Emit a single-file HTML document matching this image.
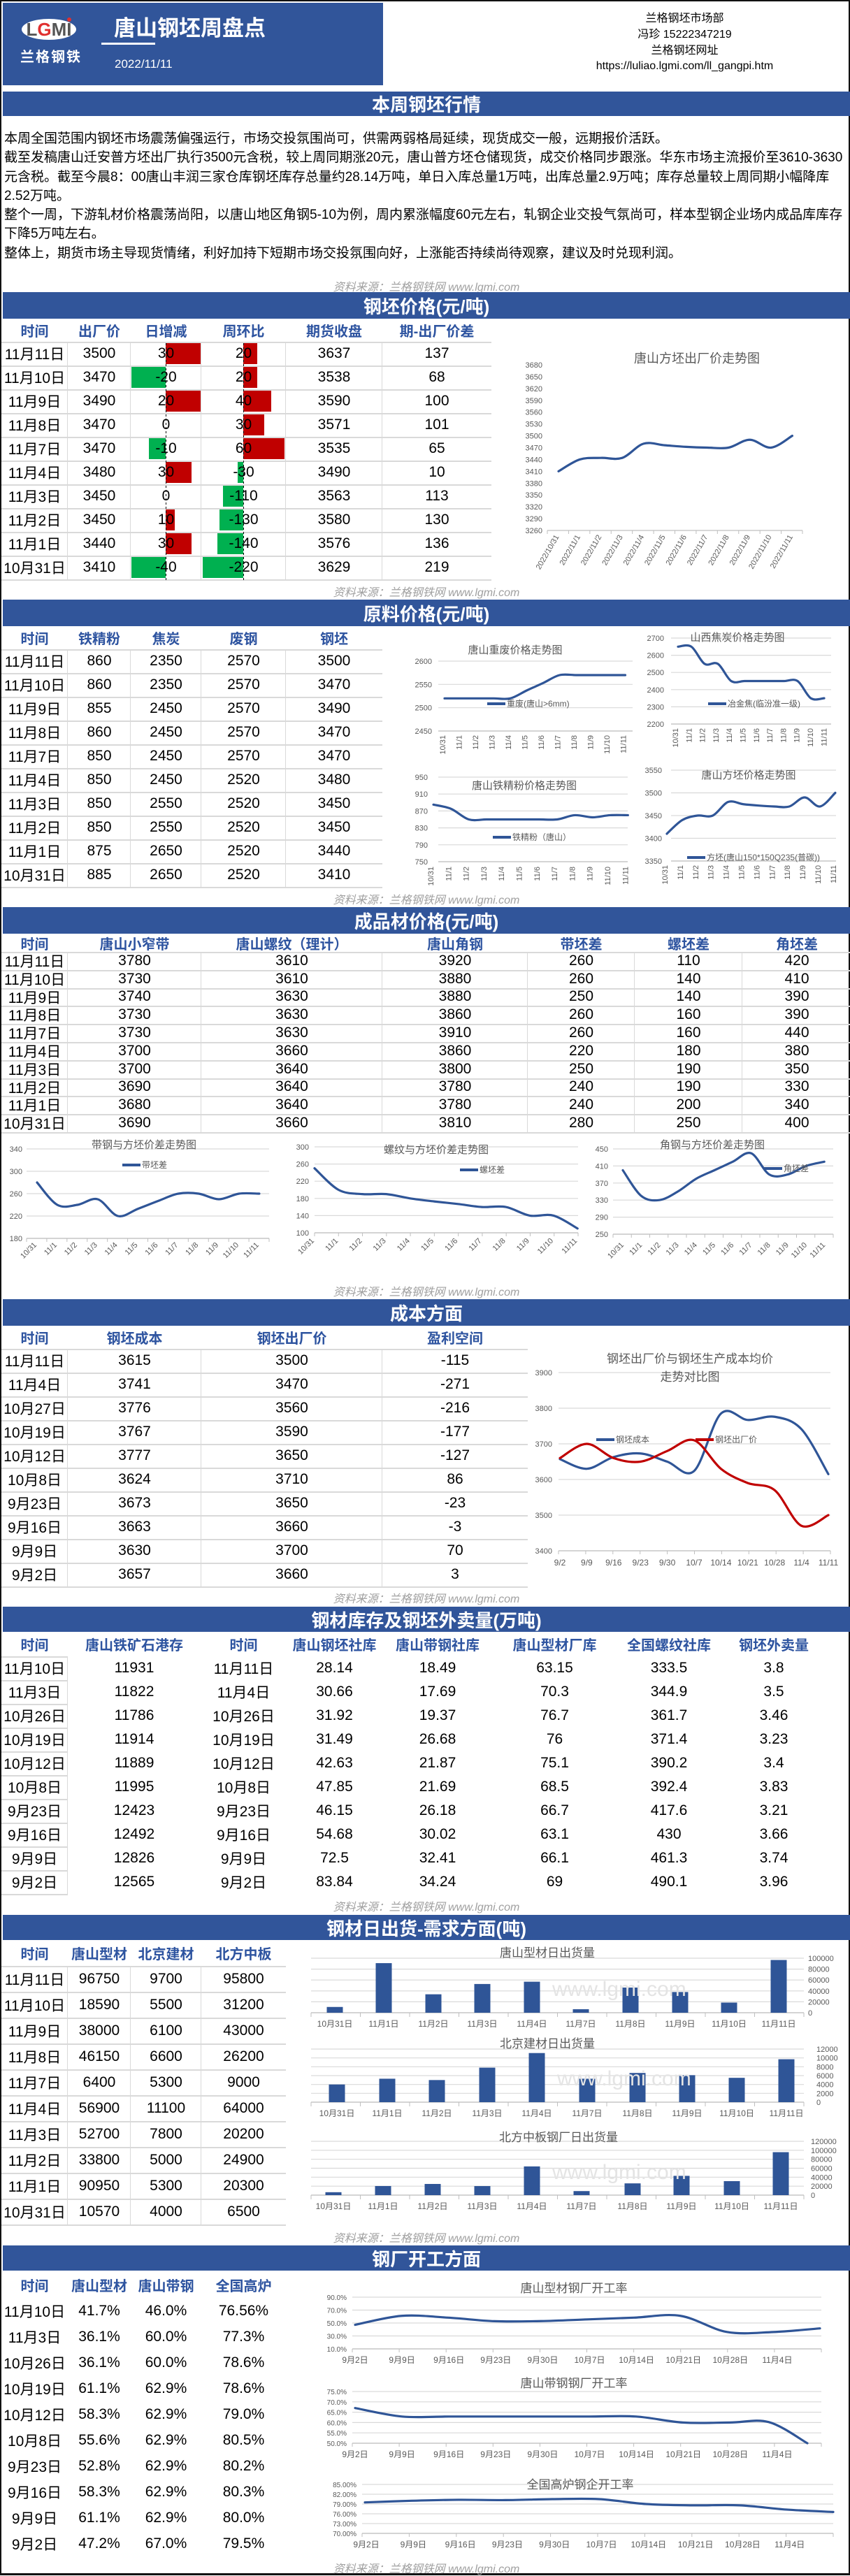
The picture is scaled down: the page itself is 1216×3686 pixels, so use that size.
<!DOCTYPE html>
<html><head><meta charset="utf-8">
<style>
*{margin:0;padding:0;box-sizing:border-box}
body{width:1216px;height:3685px;background:#fff;position:relative;overflow:hidden;font-family:"Liberation Sans","Noto Sans CJK SC",sans-serif;color:#000}
#p{position:absolute;left:0;top:0;width:1216px;height:3685px;border:2px solid #111;border-bottom:3px solid #111}
.a{position:absolute;display:flex;align-items:center;justify-content:center;white-space:nowrap}
.bar{position:absolute;left:2px;width:1212px;background:#31559a;color:#fff;font-weight:bold;font-size:26px;display:flex;align-items:center;justify-content:center}
.src{position:absolute;left:0;width:1216px;text-align:center;font-style:italic;color:#a0a0a0;font-size:16px}
.h{color:#2e54a0;font-weight:bold;font-size:20px}
.c{font-size:21px}
#txt{position:absolute;left:4px;top:183px;font-size:19px;line-height:27.3px;white-space:nowrap}
svg{position:absolute;left:0;top:0}
</style></head><body>
<div id="p">
<div style="position:absolute;left:2px;top:2px;width:544px;height:118px;background:#31559a"></div>
<div style="position:absolute;left:0;top:0;width:546px;height:120px">
<svg width="546" height="120"><ellipse cx="68" cy="40" rx="39" ry="15" fill="#fff"/><text x="68" y="49" text-anchor="middle" font-size="26" font-weight="bold" fill="#555" font-family="Liberation Sans">L<tspan fill="#e03030">G</tspan>MI</text><circle cx="97" cy="26" r="3" fill="#e03030"/></svg>
</div>
<div style="position:absolute;left:27px;top:63px;color:#fff;font-size:20px;font-weight:bold;letter-spacing:2px">兰格钢铁</div>
<div style="position:absolute;left:161px;top:13px;color:#fff;font-size:31px;font-weight:bold">唐山钢坯周盘点</div>
<div style="position:absolute;left:143px;top:59px;width:77px;height:3px;background:#fff"></div>
<div style="position:absolute;left:162px;top:80px;color:#fff;font-size:17px">2022/11/11</div>
<div style="position:absolute;left:740px;top:14px;width:475px;text-align:center;font-size:16px;line-height:22.8px">兰格钢坯市场部<br>冯珍 15222347219<br>兰格钢坯网址<br>https://luliao.lgmi.com/ll_gangpi.htm</div>

<div class="bar" style="top:129px;height:35px">本周钢坯行情</div>
<div id="txt">本周全国范围内钢坯市场震荡偏强运行，市场交投氛围尚可，供需两弱格局延续，现货成交一般，远期报价活跃。<br>截至发稿唐山迁安普方坯出厂执行3500元含税，较上周同期涨20元，唐山普方坯仓储现货，成交价格同步跟涨。华东市场主流报价至3610-3630<br>元含税。截至今晨8：00唐山丰润三家仓库钢坯库存总量约28.14万吨，单日入库总量1万吨，出库总量2.9万吨；库存总量较上周同期小幅降库<br>2.52万吨。<br>整个一周，下游轧材价格震荡尚阳，以唐山地区角钢5-10为例，周内累涨幅度60元左右，轧钢企业交投气氛尚可，样本型钢企业场内成品库库存<br>下降5万吨左右。<br>整体上，期货市场主导现货情绪，利好加持下短期市场交投氛围向好，上涨能否持续尚待观察，建议及时兑现利润。</div>

<div class="src" style="top:395px">资料来源：兰格钢铁网 www.lgmi.com</div>
<div class="bar" style="top:416px;height:38px">钢坯价格(元/吨)</div>
<div class="src" style="top:832px">资料来源：兰格钢铁网 www.lgmi.com</div>
<div class="bar" style="top:856px;height:38px">原料价格(元/吨)</div>
<div class="src" style="top:1272px">资料来源：兰格钢铁网 www.lgmi.com</div>
<div class="bar" style="top:1296px;height:38px">成品材价格(元/吨)</div>
<div class="src" style="top:1833px">资料来源：兰格钢铁网 www.lgmi.com</div>
<div class="bar" style="top:1857px;height:38px">成本方面</div>
<div class="src" style="top:2272px">资料来源：兰格钢铁网 www.lgmi.com</div>
<div class="bar" style="top:2297px;height:36px">钢材库存及钢坯外卖量(万吨)</div>
<div class="src" style="top:2713px">资料来源：兰格钢铁网 www.lgmi.com</div>
<div class="bar" style="top:2738px;height:36px">钢材日出货-需求方面(吨)</div>
<div class="src" style="top:3187px">资料来源：兰格钢铁网 www.lgmi.com</div>
<div class="bar" style="top:3211px;height:36px">钢厂开工方面</div>
<div class="src" style="top:3660px">资料来源：兰格钢铁网 www.lgmi.com</div>
</div>
<svg id="s" width="1216" height="3685"></svg>
<script>
var P=document.getElementById('p');
function D(x,y,w,h,t,cls,st){var d=document.createElement('div');d.className='a '+(cls||'');d.style.cssText+='left:'+x+'px;top:'+y+'px;width:'+w+'px;height:'+h+'px;'+(st||'');d.textContent=t;P.appendChild(d);return d;}
function R(x,y,w,h,c){var d=document.createElement('div');d.style.cssText='position:absolute;left:'+x+'px;top:'+y+'px;width:'+w+'px;height:'+h+'px;background:'+c;P.appendChild(d);}
function tbl(cols,top,hh,rh,heads,rows,bord){
  for(var i=0;i<heads.length;i++){D(cols[i],top,cols[i+1]-cols[i],hh,heads[i],'h');}
  for(var r=0;r<rows.length;r++){var y=top+hh+r*rh;
    if(bord){var ex=bord=='first'?cols[1]:cols[cols.length-1];R(0,y,ex,2,'#d9d9d9');
      for(var i=1;i<cols.length-1;i++){if(bord=='first'&&i>1)break;R(cols[i]-1,y,1,rh,'#d9d9d9');}
      if(bord=='first')R(cols[1]-1,y,1,rh,'#d9d9d9');}
    for(var i=0;i<rows[r].length;i++){D(cols[i],y,cols[i+1]-cols[i],rh,rows[r][i],'c');}}
  if(bord){var ex=bord=='first'?cols[1]:cols[cols.length-1];R(0,top+hh+rows.length*rh,ex,2,'#d9d9d9');}
}
var b1=[[235,285,'r'],[186,235,'g'],[235,285,'r'],null,[211,235,'g'],[235,272,'r'],null,[235,248,'r'],[235,272,'r'],[186,235,'g']];
var b2=[[346,366,'r'],[346,366,'r'],[346,386,'r'],[346,376,'r'],[346,405,'r'],[338,346,'g'],[317,346,'g'],[312,346,'g'],[309,346,'g'],[288,346,'g']];
for(var i=0;i<10;i++){var y=489+i*34;[b1[i],b2[i]].forEach(function(b){if(b)R(b[0],y,b[1]-b[0],30,b[2]=='r'?'#c00000':'#00b050');});}
tbl([0,95,185,286,407,545,701],454,33,34,['时间','出厂价','日增减','周环比','期货收盘','期-出厂价差'],[
['11月11日','3500','30','20','3637','137'],['11月10日','3470','-20','20','3538','68'],['11月9日','3490','20','40','3590','100'],['11月8日','3470','0','30','3571','101'],['11月7日','3470','-10','60','3535','65'],['11月4日','3480','30','-30','3490','10'],['11月3日','3450','0','-110','3563','113'],['11月2日','3450','10','-130','3580','130'],['11月1日','3440','30','-140','3576','136'],['10月31日','3410','-40','-220','3629','219']],'all');
for(var y=489;y<827;y+=6){R(235,y,1,3,'#000');R(346,y,1,3,'#000');}
tbl([0,95,185,286,407,545],894,33,34,['时间','铁精粉','焦炭','废钢','钢坯'],[
['11月11日','860','2350','2570','3500'],['11月10日','860','2350','2570','3470'],['11月9日','855','2450','2570','3490'],['11月8日','860','2450','2570','3470'],['11月7日','850','2450','2570','3470'],['11月4日','850','2450','2520','3480'],['11月3日','850','2550','2520','3450'],['11月2日','850','2550','2520','3450'],['11月1日','875','2650','2520','3440'],['10月31日','885','2650','2520','3410']],'all');
tbl([0,95,286,545,753,906,1060,1216],1334,26,25.8,['时间','唐山小窄带','唐山螺纹（理计）','唐山角钢','带坯差','螺坯差','角坯差'],[
['11月11日','3780','3610','3920','260','110','420'],['11月10日','3730','3610','3880','260','140','410'],['11月9日','3740','3630','3880','250','140','390'],['11月8日','3730','3630','3860','260','160','390'],['11月7日','3730','3630','3910','260','160','440'],['11月4日','3700','3660','3860','220','180','380'],['11月3日','3700','3640','3800','250','190','350'],['11月2日','3690','3640','3780','240','190','330'],['11月1日','3680','3640','3780','240','200','340'],['10月31日','3690','3660','3810','280','250','400']],'all');
tbl([0,95,286,545,753],1895,33,34,['时间','钢坯成本','钢坯出厂价','盈利空间'],[
['11月11日','3615','3500','-115'],['11月4日','3741','3470','-271'],['10月27日','3776','3560','-216'],['10月19日','3767','3590','-177'],['10月12日','3777','3650','-127'],['10月8日','3624','3710','86'],['9月23日','3673','3650','-23'],['9月16日','3663','3660','-3'],['9月9日','3630','3700','70'],['9月2日','3657','3660','3']],'all');
tbl([0,95,285,408,545,703,880,1030,1180],2333,35,34,['时间','唐山铁矿石港存','时间','唐山钢坯社库','唐山带钢社库','唐山型材厂库','全国螺纹社库','钢坯外卖量'],[
['11月10日','11931','11月11日','28.14','18.49','63.15','333.5','3.8'],['11月3日','11822','11月4日','30.66','17.69','70.3','344.9','3.5'],['10月26日','11786','10月26日','31.92','19.37','76.7','361.7','3.46'],['10月19日','11914','10月19日','31.49','26.68','76','371.4','3.23'],['10月12日','11889','10月12日','42.63','21.87','75.1','390.2','3.4'],['10月8日','11995','10月8日','47.85','21.69','68.5','392.4','3.83'],['9月23日','12423','9月23日','46.15','26.18','66.7','417.6','3.21'],['9月16日','12492','9月16日','54.68','30.02','63.1','430','3.66'],['9月9日','12826','9月9日','72.5','32.41','66.1','461.3','3.74'],['9月2日','12565','9月2日','83.84','34.24','69','490.1','3.96']],'first');
tbl([0,95,185,286,407],2774,37,37,['时间','唐山型材','北京建材','北方中板'],[
['11月11日','96750','9700','95800'],['11月10日','18590','5500','31200'],['11月9日','38000','6100','43000'],['11月8日','46150','6600','26200'],['11月7日','6400','5300','9000'],['11月4日','56900','11100','64000'],['11月3日','52700','7800','20200'],['11月2日','33800','5000','24900'],['11月1日','90950','5300','20300'],['10月31日','10570','4000','6500']],'all');
tbl([0,95,185,286,407],3249,37,37,['时间','唐山型材','唐山带钢','全国高炉'],[
['11月10日','41.7%','46.0%','76.56%'],['11月3日','36.1%','60.0%','77.3%'],['10月26日','36.1%','60.0%','78.6%'],['10月19日','61.1%','62.9%','78.6%'],['10月12日','58.3%','62.9%','79.0%'],['10月8日','55.6%','62.9%','80.5%'],['9月23日','52.8%','62.9%','80.2%'],['9月16日','58.3%','62.9%','80.3%'],['9月9日','61.1%','62.9%','80.0%'],['9月2日','47.2%','67.0%','79.5%']],null);

var S=document.getElementById('s'),NS='http://www.w3.org/2000/svg';
function E(tag,at,txt){var e=document.createElementNS(NS,tag);for(var k in at)e.setAttribute(k,at[k]);if(txt!=null)e.textContent=txt;S.appendChild(e);return e;}
function L(x1,y1,x2,y2,c,w){E('line',{x1:x1,y1:y1,x2:x2,y2:y2,stroke:c||'#d9d9d9','stroke-width':w||1});}
function TX(x,y,t,s,anc,c,rot){var at={x:x,y:y,'font-size':s||12,'text-anchor':anc||'middle',fill:c||'#595959','font-family':'Liberation Sans, Noto Sans CJK SC, sans-serif'};if(rot)at.transform='rotate('+rot+' '+x+' '+y+')';E('text',at,t);}
function sp(p){var d='M'+p[0][0]+','+p[0][1];for(var i=0;i<p.length-1;i++){var p0=p[i-1]||p[i],p1=p[i],p2=p[i+1],p3=p[i+2]||p2;d+=' C'+(p1[0]+(p2[0]-p0[0])/6)+','+(p1[1]+(p2[1]-p0[1])/6)+' '+(p2[0]-(p3[0]-p1[0])/6)+','+(p2[1]-(p3[1]-p1[1])/6)+' '+p2[0]+','+p2[1];}return d;}
function LC(o){
  var n=o.yv.length,vT=o.yv[0][0],vB=o.yv[n-1][0];
  function ym(v){return o.yTop+(vT-v)*(o.yBot-o.yTop)/(vT-vB);}
  o.yv.forEach(function(a,i){var y=o.yTop+i*(o.yBot-o.yTop)/(n-1);if(o.grid!==false)L(o.gx0,y,o.gx1,y,'#d9d9d9',1.2);TX(o.labX,y+4,a[1],o.ls||11,'end');});
  L(o.gx0,o.yBot,o.gx1,o.yBot,'#bfbfbf',1.2);
  if(o.ticks){for(var i=0;i<=o.ticks;i++){var x=o.gx0+i*(o.gx1-o.gx0)/o.ticks;L(x,o.yBot,x,o.yBot+5,'#bfbfbf',1);}}
  (o.title||[]).forEach(function(t){TX(t[1],t[2],t[0],t[3]||16,'middle','#595959');});
  o.series.forEach(function(s){var pts=s.v.map(function(v,i){return [s.xs?s.xs[i]:s.x0+i*s.dx,ym(v)];});E('path',{d:sp(pts),fill:'none',stroke:s.c||'#2f5597','stroke-width':s.w||3.2,'stroke-linecap':'round'});});
  (o.leg||[]).forEach(function(l){L(l[1],l[2]-4,l[1]+26,l[2]-4,l[3]||'#2f5597',4);TX(l[1]+28,l[2],l[0],12,'start');});
  if(o.xl){var x=o.xl;x.l.forEach(function(t,i){TX(x.x0+i*x.dx,x.y,t,x.s||11,x.anc||'middle','#595959',x.rot);});}
}
var d12=['10/31','11/1','11/2','11/3','11/4','11/5','11/6','11/7','11/8','11/9','11/10','11/11'];
var a=[];for(var v=3680;v>=3260;v-=30)a.push([v,''+v]);
LC({yv:a,yTop:522,yBot:759,gx0:783,gx1:1148,labX:776,grid:false,ticks:12,ls:11,
 title:[['唐山方坯出厂价走势图',997,519,18]],
 series:[{v:[3410,3440,3444,3444,3480,3476,3472,3470,3470,3490,3470,3500],x0:799,dx:30.4}],
 xl:{l:['2022/10/31','2022/11/1','2022/11/2','2022/11/3','2022/11/4','2022/11/5','2022/11/6','2022/11/7','2022/11/8','2022/11/9','2022/11/10','2022/11/11'],x0:800,dx:30.4,y:768,rot:-60,anc:'end',s:11}});
LC({yv:[[2600,'2600'],[2550,'2550'],[2500,'2500'],[2450,'2450']],yTop:946,yBot:1046,gx0:627,gx1:905,labX:618,
 title:[['唐山重废价格走势图',737,935,15]],series:[{v:[2520,2520,2520,2520,2520,2537,2553,2570,2570,2570,2570,2570],x0:636,dx:23.5}],
 leg:[['重废(唐山>6mm)',697,1011]],xl:{l:d12,x0:637,dx:23.5,y:1052,rot:-90,anc:'end',s:11}});
LC({yv:[[2700,'2700'],[2600,'2600'],[2500,'2500'],[2400,'2400'],[2300,'2300'],[2200,'2200']],yTop:913,yBot:1036,gx0:960,gx1:1189,labX:950,
 title:[['山西焦炭价格走势图',1055,917,15]],series:[{v:[2650,2650,2550,2550,2450,2450,2450,2450,2450,2450,2350,2350],x0:970,dx:19}],
 leg:[['冶金焦(临汾准一级)',1013,1011]],xl:{l:d12,x0:970,dx:19.3,y:1042,rot:-90,anc:'end',s:11}});
LC({yv:[[950,'950'],[910,'910'],[870,'870'],[830,'830'],[790,'790'],[750,'750']],yTop:1112,yBot:1233,gx0:627,gx1:898,labX:612,
 title:[['唐山铁精粉价格走势图',750,1129,15]],series:[{v:[885,875,850,850,850,850,850,850,860,855,860,860],x0:620,dx:25.3}],
 leg:[['铁精粉（唐山）',705,1202]],xl:{l:d12,x0:620,dx:25.3,y:1240,rot:-90,anc:'end',s:11}});
LC({yv:[[3550,'3550'],[3500,'3500'],[3450,'3450'],[3400,'3400'],[3350,'3350']],yTop:1102,yBot:1232,gx0:960,gx1:1196,labX:947,
 title:[['唐山方坯价格走势图',1071,1114,15]],series:[{v:[3410,3440,3450,3450,3480,3475,3472,3470,3470,3490,3470,3500],x0:954,dx:21.9}],
 leg:[['方坯(唐山150*150Q235(普碳))',983,1231]],xl:{l:d12,x0:955,dx:21.9,y:1238,rot:-90,anc:'end',s:11}});
LC({yv:[[340,'340'],[300,'300'],[260,'260'],[220,'220'],[180,'180']],yTop:1644,yBot:1772,gx0:38,gx1:385,labX:32,ticks:12,
 title:[['带钢与方坯价差走势图',206,1643,15]],series:[{v:[280,240,240,250,220,233,247,260,260,250,260,260],x0:53,dx:28.9}],
 leg:[['带坯差',175,1671]],xl:{l:d12,x0:53,dx:28.9,y:1782,rot:-45,anc:'end',s:11}});
LC({yv:[[300,'300'],[260,'260'],[220,'220'],[180,'180'],[140,'140'],[100,'100']],yTop:1641,yBot:1764,gx0:450,gx1:827,labX:442,ticks:11,
 title:[['螺纹与方坯价差走势图',624,1650,15]],series:[{v:[250,200,190,190,180,173,167,160,160,140,140,110],x0:450,dx:34.2}],
 leg:[['螺坯差',658,1678]],xl:{l:d12,x0:450,dx:34.2,y:1776,rot:-45,anc:'end',s:11}});
LC({yv:[[450,'450'],[410,'410'],[370,'370'],[330,'330'],[290,'290'],[250,'250']],yTop:1644,yBot:1766,gx0:877,gx1:1192,labX:870,ticks:12,
 title:[['角钢与方坯价差走势图',1019,1643,15]],series:[{v:[400,340,330,350,380,400,420,440,390,390,410,420],x0:891,dx:26.2}],
 leg:[['角坯差',1093,1676]],xl:{l:d12,x0:893,dx:26.2,y:1782,rot:-45,anc:'end',s:11}});
LC({yv:[[3900,'3900'],[3800,'3800'],[3700,'3700'],[3600,'3600'],[3500,'3500'],[3400,'3400']],yTop:1964,yBot:2219,gx0:799,gx1:1188,labX:790,ticks:10,
 title:[['钢坯出厂价与钢坯生产成本均价',987,1950,17],['走势对比图',987,1976,17]],
 series:[{v:[3657,3630,3663,3673,3650,3624,3785,3767,3776,3741,3615],x0:801,dx:38.4},{v:[3660,3700,3660,3650,3680,3710,3630,3590,3570,3470,3500],x0:801,dx:38.4,c:'#c00000'}],
 leg:[['钢坯成本',853,2064],['钢坯出厂价',995,2064,'#c00000']],xl:{l:['9/2','9/9','9/16','9/23','9/30','10/7','10/14','10/21','10/28','11/4','11/11'],x0:801,dx:38.4,y:2240,s:12}});
function BC(o){var n=o.yl.length;o.yl.forEach(function(t,i){var y=o.yTop+i*(o.yBot-o.yTop)/(n-1);L(445,y,1150,y,'#d9d9d9',1.2);TX(o.lx,y+4,t,11,'start');});
 L(445,o.yBot,1150,o.yBot,'#bfbfbf',1.2);for(var i=0;i<=10;i++){var x=445+i*70.5;L(x,o.yBot,x,o.yBot+6,'#bfbfbf',1);}
 TX(o.tx,o.ty,o.t,17,'middle');
 o.v.forEach(function(v,i){var h=v/o.max*(o.yBot-o.yTop);E('rect',{x:o.xs[i]-11.5,y:o.yBot-h,width:23,height:h,fill:'#2f5597'});TX(o.xs[i],o.yBot+20,['10月31日','11月1日','11月2日','11月3日','11月4日','11月7日','11月8日','11月9日','11月10日','11月11日'][i],12,'middle');});
 TX(o.wx,o.wy,'www.lgmi.com',30,'start','#e4e4e4');}
BC({t:'唐山型材日出货量',tx:783,ty:2800,yTop:2802,yBot:2880,max:100000,lx:1156,yl:['100000','80000','60000','40000','20000','0'],
 xs:[479,549,620,690,761,831,902,973,1043,1114],v:[10570,90950,33800,52700,56900,6400,46150,38000,18590,96750],wx:790,wy:2856});
BC({t:'北京建材日出货量',tx:783,ty:2930,yTop:2932,yBot:3008,max:12000,lx:1168,yl:['12000','10000','8000','6000','4000','2000','0'],
 xs:[482,554,625,697,768,840,912,983,1054,1125],v:[4000,5300,5000,7800,11100,5300,6600,6100,5500,9700],wx:797,wy:2984});
BC({t:'北方中板钢厂日出货量',tx:799,ty:3064,yTop:3064,yBot:3141,max:120000,lx:1160,yl:['120000','100000','80000','60000','40000','20000','0'],
 xs:[477,548,619,690,761,832,905,975,1047,1117],v:[6500,20300,24900,20200,64000,9000,26200,43000,31200,95800],wx:790,wy:3118});
var wk=['9月2日','9月9日','9月16日','9月23日','9月30日','10月7日','10月14日','10月21日','10月28日','11月4日'];
LC({yv:[[90,'90.0%'],[70,'70.0%'],[50,'50.0%'],[30,'30.0%'],[10,'10.0%']],yTop:3287,yBot:3361,gx0:504,gx1:1175,labX:496,ticks:10,ls:10,
 title:[['唐山型材钢厂开工率',821,3280,17]],series:[{v:[47.2,61.1,58.3,52.8,53,55.6,58.3,61.1,36.1,36.1,41.7],x0:508,dx:66.5}],
 xl:{l:wk,x0:508,dx:67.1,y:3381,s:12}});
LC({yv:[[75,'75.0%'],[70,'70.0%'],[65,'65.0%'],[60,'60.0%'],[55,'55.0%'],[50,'50.0%']],yTop:3422,yBot:3496,gx0:504,gx1:1175,labX:496,ticks:10,ls:10,
 title:[['唐山带钢钢厂开工率',821,3416,17]],series:[{v:[67,62.9,62.9,62.9,62.9,62.9,62.9,60,60,60.2,50],xs:[508,575,642,708,776,843,910,977,1044,1100,1155]}],
 xl:{l:wk,x0:508,dx:67.1,y:3516,s:12}});
LC({yv:[[85,'85.00%'],[82,'82.00%'],[79,'79.00%'],[76,'76.00%'],[73,'73.00%'],[70,'70.00%']],yTop:3555,yBot:3625,gx0:518,gx1:1192,labX:510,ticks:10,ls:10,
 title:[['全国高炉钢企开工率',830,3561,17]],series:[{v:[79.5,80.0,80.3,80.2,80.5,80.5,79.0,78.6,78.6,77.3,76.56],x0:522,dx:67}],
 xl:{l:wk,x0:524,dx:67.3,y:3645,s:12}});
</script>
</body></html>
